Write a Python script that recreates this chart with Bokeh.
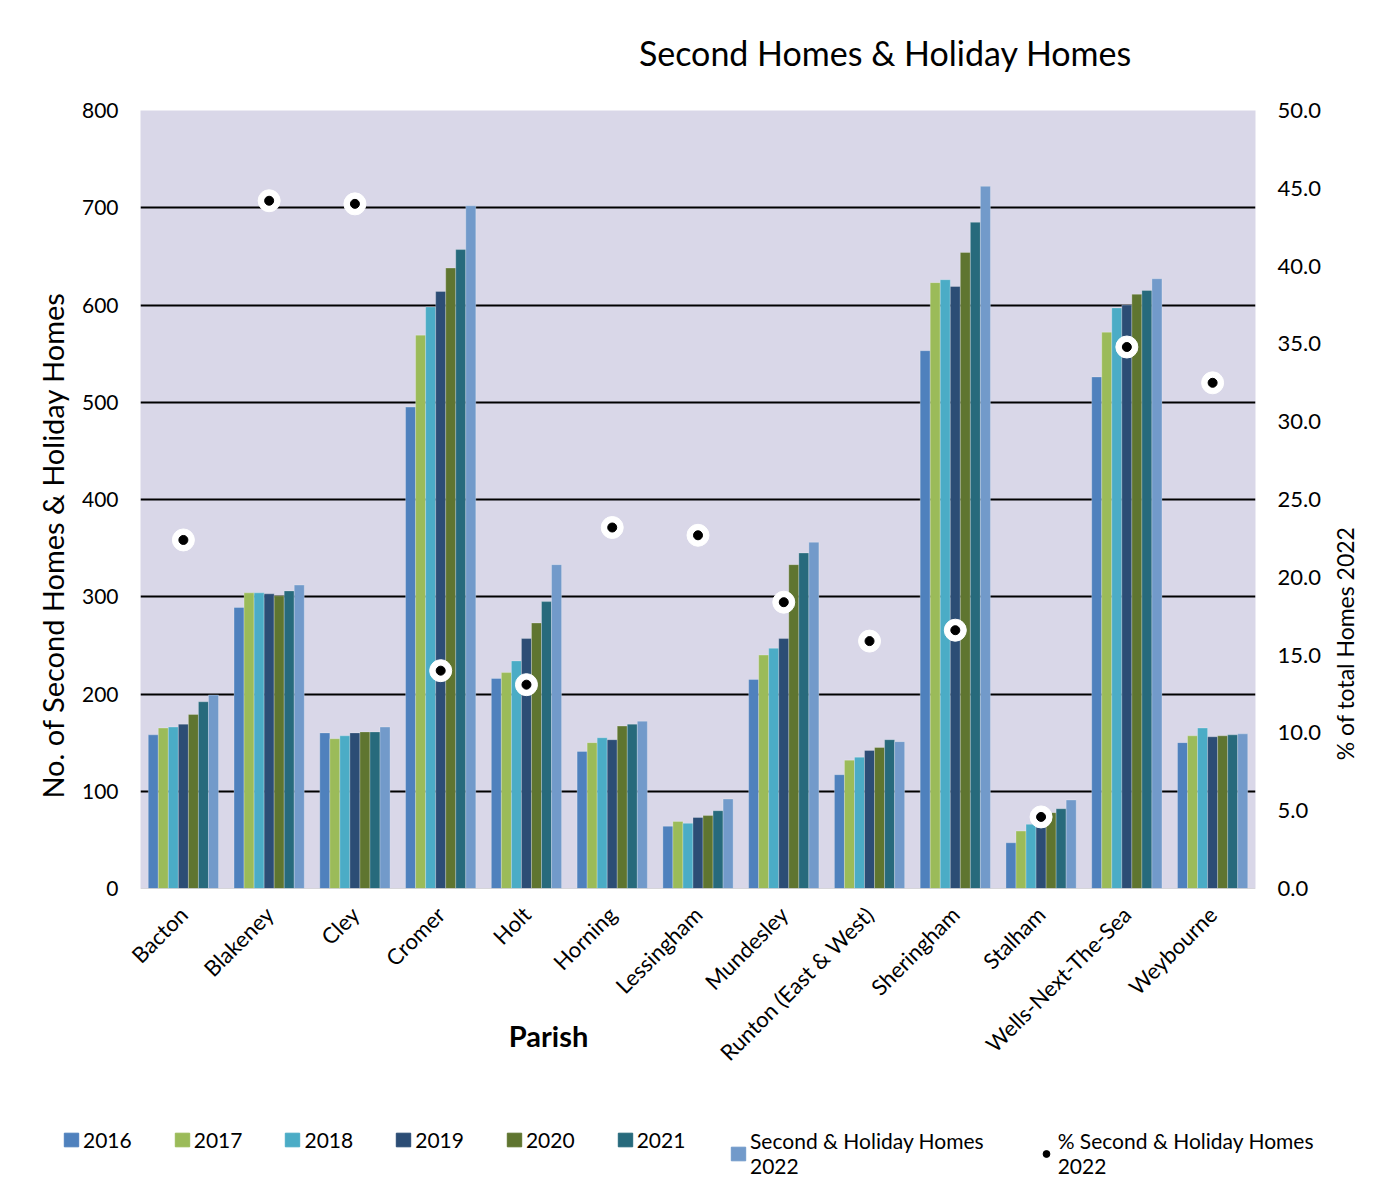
import math
from bokeh.plotting import figure
from bokeh.models import (Range1d, LinearAxis, FixedTicker, Label, Legend, LegendItem,
                          ColumnDataSource, NumeralTickFormatter, Span)
from bokeh.embed import file_html
from bokeh.resources import INLINE

parishes = ["Bacton", "Blakeney", "Cley", "Cromer", "Holt", "Horning", "Lessingham",
            "Mundesley", "Runton (East & West)", "Sheringham", "Stalham",
            "Wells-Next-The-Sea", "Weybourne"]
y2016 = [158, 289, 160, 495, 216, 141, 64, 215, 117, 553, 47, 526, 150]
y2017 = [165, 304, 154, 569, 222, 150, 69, 240, 132, 623, 59, 572, 157]
y2018 = [166, 304, 157, 598, 234, 155, 67, 247, 135, 626, 66, 597, 165]
y2019 = [169, 303, 160, 614, 257, 153, 73, 257, 142, 619, 70, 600, 156]
y2020 = [179, 301, 161, 638, 273, 167, 75, 333, 145, 654, 78, 611, 157]
y2021 = [192, 306, 161, 657, 295, 169, 80, 345, 153, 685, 82, 615, 158]
y2022 = [199, 312, 166, 702, 333, 172, 92, 356, 151, 722, 91, 627, 159]
pct2022 = [22.4, 44.2, 44.0, 14.0, 13.1, 23.2, 22.7, 18.4, 15.9, 16.6, 4.6, 34.8, 32.5]

series_names = ["2016", "2017", "2018", "2019", "2020", "2021", "Second & Holiday Homes\n2022"]
series_vals = [y2016, y2017, y2018, y2019, y2020, y2021, y2022]
colors = ["#4F81BD", "#9BBB59", "#4BACC6", "#2C4D75", "#5F7530", "#276A7C", "#729ACA"]
pct_name = "% Second & Holiday Homes\n2022"

FONT = "Lato"
W = 1382
H1 = 1100
H2 = 90


def plain_axis(ax, size):
    ax.major_label_text_font = FONT
    ax.major_label_text_font_size = size
    ax.major_label_text_color = "black"
    ax.axis_line_color = None
    ax.major_tick_line_color = None
    ax.minor_tick_line_color = None
    ax.major_tick_out = 0
    ax.major_tick_in = 0
    ax.minor_tick_out = 0
    ax.minor_tick_in = 0


p = figure(width=W, height=H1, x_range=Range1d(-0.5, 12.5), y_range=Range1d(0, 800),
           output_backend="svg", toolbar_location=None, title=None,
           min_border_left=140, min_border_right=127, min_border_top=110,
           min_border_bottom=H1 - 110 - 778)
p.border_fill_color = "white"
p.background_fill_color = "#D9D7E8"
p.outline_line_color = None
p.extra_y_ranges = {"pct": Range1d(0, 50)}

idx = list(range(len(parishes)))
bw = 0.117
for i, (vals, col) in enumerate(zip(series_vals, colors)):
    xs = [k + (i - 3) * bw for k in idx]
    src = ColumnDataSource(dict(x=xs, top=vals))
    p.vbar(x="x", top="top", width=bw, bottom=0, source=src, fill_color=col,
           line_color="white", line_alpha=0.25, line_width=1)

psrc = ColumnDataSource(dict(x=idx, y=pct2022))
p.scatter(x="x", y="y", source=psrc, y_range_name="pct", size=22, fill_color="white",
          line_color="white")
p.scatter(x="x", y="y", source=psrc, y_range_name="pct", size=9, fill_color="black",
          line_color="black")

# grid
p.xgrid.visible = False
p.ygrid.ticker = FixedTicker(ticks=[100, 200, 300, 400, 500, 600, 700, 800])
p.ygrid.grid_line_color = "black"
p.ygrid.grid_line_width = 2
p.add_layout(Span(location=0, dimension="width", line_color="#BFBFBF", line_width=1))

# x axis
xa = p.xaxis[0]
xa.ticker = FixedTicker(ticks=idx)
xa.major_label_overrides = {k: n for k, n in enumerate(parishes)}
xa.major_label_orientation = math.pi / 4
plain_axis(xa, "22px")
xa.major_label_standoff = 22

# left axis
ya = p.yaxis[0]
ya.ticker = FixedTicker(ticks=[0, 100, 200, 300, 400, 500, 600, 700, 800])
plain_axis(ya, "21px")
ya.major_label_standoff = 22

# right axis
ra = LinearAxis(y_range_name="pct")
ra.ticker = FixedTicker(ticks=[0, 5, 10, 15, 20, 25, 30, 35, 40, 45, 50])
ra.formatter = NumeralTickFormatter(format="0.0")
plain_axis(ra, "22px")
ra.major_label_standoff = 22
p.add_layout(ra, "right")

# titles (placed in side panels so they are not clipped to the frame)
p.add_layout(Label(x=8.186, y=860, text="Second Homes & Holiday Homes", text_align="center",
                   text_baseline="middle", text_font=FONT, text_font_size="34px",
                   text_color="black"), "above")
p.add_layout(Label(x=4.257, y=-151, text="Parish", text_align="center",
                   text_baseline="middle", text_font=FONT, text_font_size="29px",
                   text_font_style="bold", text_color="black"), "above")
p.add_layout(Label(x=-1.526, y=353, text="No. of Second Homes & Holiday Homes",
                   angle=math.pi / 2, text_align="center", text_baseline="middle",
                   text_font=FONT, text_font_size="29px", text_color="black"), "left")
p.add_layout(Label(x=13.549, y=252, text="% of total Homes 2022", angle=math.pi / 2,
                   text_align="center", text_baseline="middle", text_font=FONT,
                   text_font_size="23px", text_color="black"), "right")

# legend in a separate strip below
q = figure(width=W, height=H2, x_range=Range1d(0, 1), y_range=Range1d(0, 1),
           output_backend="svg", toolbar_location=None, title=None,
           x_axis_location=None, y_axis_location=None,
           min_border_left=0, min_border_right=0, min_border_top=0, min_border_bottom=0)
q.grid.visible = False
q.outline_line_color = None
q.border_fill_color = "white"
q.background_fill_color = "white"
dummy = ColumnDataSource(dict(x=[5], top=[5]))
items1 = []
items2 = []
for name, col in zip(series_names, colors):
    r = q.vbar(x="x", top="top", width=0.1, source=dummy, fill_color=col, line_color=col)
    (items2 if "\n" in name else items1).append(LegendItem(label=name, renderers=[r]))
rd = q.scatter(x="x", y="top", source=dummy, size=9, fill_color="black", line_color="black")
items2.append(LegendItem(label=pct_name, renderers=[rd]))


def make_legend(items, loc, spacing):
    lg = Legend(items=items, orientation="horizontal", location=loc)
    lg.glyph_width = 18
    lg.glyph_height = 17
    lg.label_standoff = 3
    lg.spacing = spacing
    lg.label_text_font = FONT
    lg.label_text_font_size = "21px"
    lg.label_text_color = "black"
    lg.label_text_line_height = 1.35
    lg.border_line_color = None
    lg.background_fill_alpha = 0
    lg.padding = 0
    lg.margin = 0
    return lg


q.add_layout(make_legend(items1, (62, 38), 41), "center")
q.add_layout(make_legend(items2, (729, 12), 53), "center")

open("out.html", "w").write(file_html([p, q], INLINE))
